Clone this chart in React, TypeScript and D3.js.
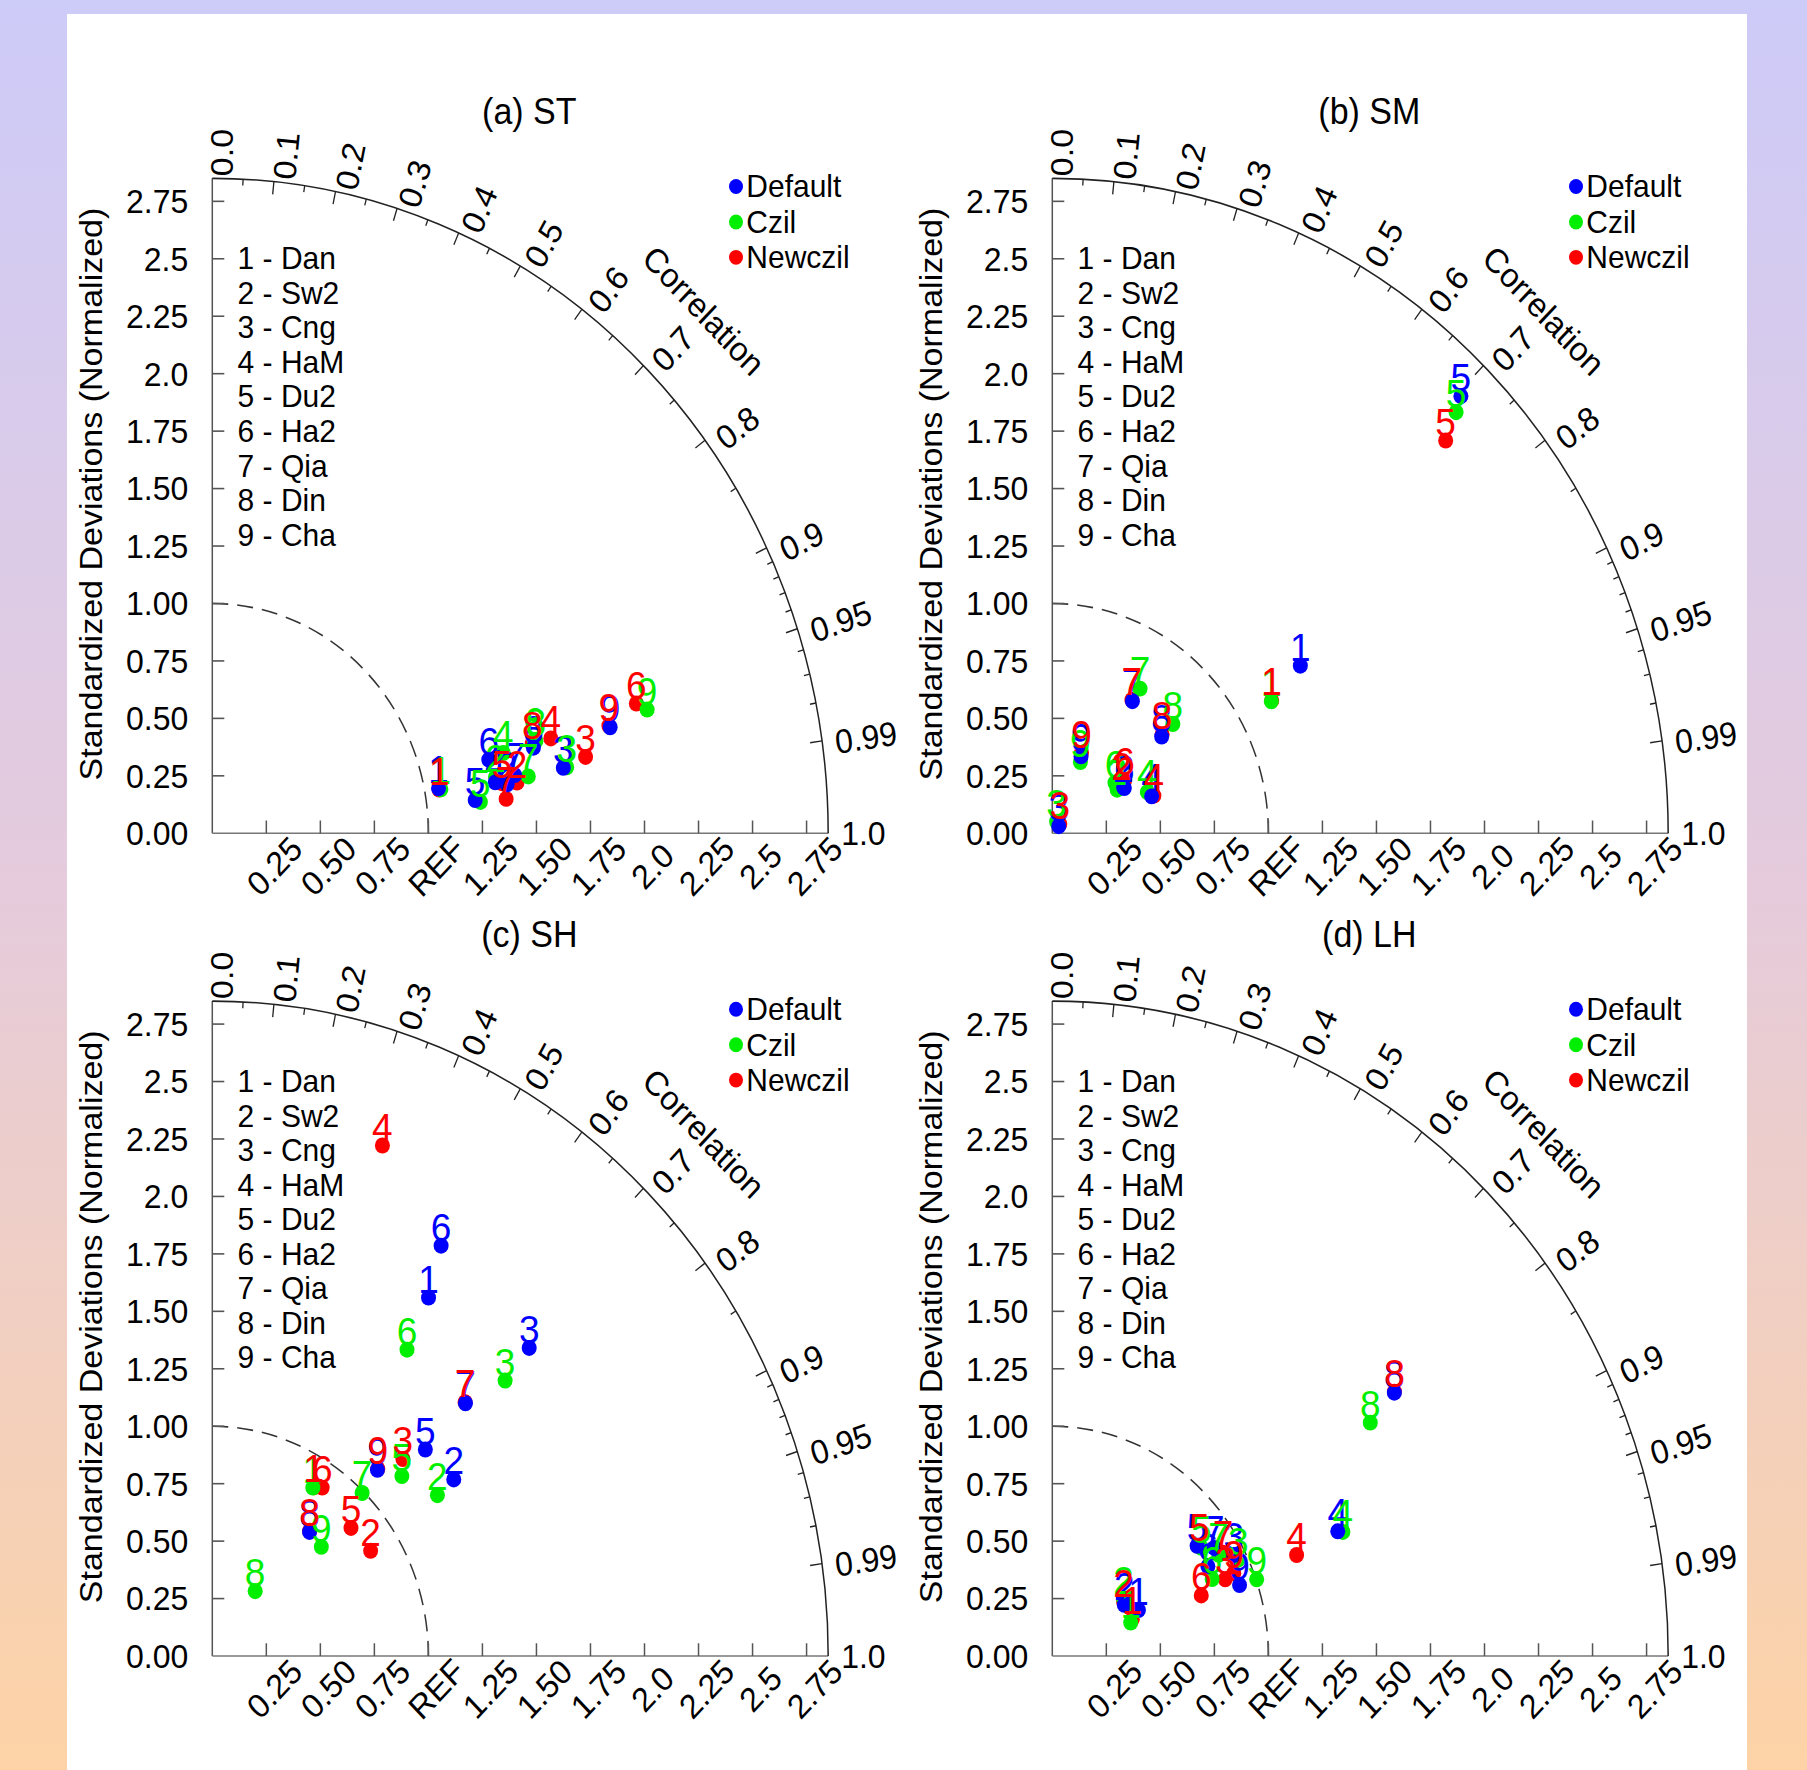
import React from "react";
import * as d3 from "d3";

// ---- data (normalized std ratio, correlation) ----
const MODELS = ["Dan", "Sw2", "Cng", "HaM", "Du2", "Ha2", "Qia", "Din", "Cha"];
const SERIES = ["Default", "Czil", "Newczil"];
const SERIES_COLORS = ["#0000ff", "#00ee00", "#ff0000"];
const PANEL_TITLES = ["(a) ST", "(b) SM", "(c) SH", "(d) LH"];

// order inside each: Default, Czil, Newczil ; 9 models each (null = not visible)
const stStd = [
  [1.065, 1.381, 1.649, 1.328, 1.225, 1.319, 1.422, 1.532, 1.898],
  [1.075, 1.333, 1.665, 1.391, 1.248, 1.544, 1.483, 1.55, 2.083],
  [1.067, 1.427, 1.759, 1.62, 1.357, 2.042, 1.368, 1.531, 1.894],
];
const stCor = [
  [0.983, 0.988, 0.985, 0.986, 0.993, 0.97, 0.984, 0.97, 0.97],
  [0.984, 0.983, 0.985, 0.968, 0.994, 0.965, 0.986, 0.966, 0.966],
  [0.984, 0.988, 0.982, 0.967, 0.987, 0.961, 0.994, 0.967, 0.969],
];

const smStd = [
  [1.36, 0.386, 0.043, 0.487, 2.682, 0.387, 0.684, 0.658, 0.36],
  [1.165, 0.355, 0.054, 0.475, 2.617, 0.364, 0.749, 0.733, 0.336],
  [1.168, 0.383, 0.053, 0.498, 2.497, 0.406, 0.687, 0.666, 0.375],
];
const smCor = [
  [0.844, 0.855, 0.696, 0.944, 0.705, 0.861, 0.542, 0.769, 0.369],
  [0.87, 0.845, 0.371, 0.926, 0.714, 0.797, 0.542, 0.761, 0.387],
  [0.869, 0.836, 0.658, 0.944, 0.729, 0.824, 0.536, 0.763, 0.36],
];

const shStd = [
  [1.853, 1.356, 1.987, null, 1.334, 2.076, 1.607, 0.703, 1.114],
  [0.868, 1.255, 1.809, null, 1.176, 1.609, 0.992, 0.345, 0.693],
  [0.872, 0.864, 1.23, 2.357, 0.85, 0.892, 1.609, 0.707, 1.118],
];
const shCor = [
  [0.54, 0.824, 0.738, null, 0.739, 0.51, 0.729, 0.64, 0.686],
  [0.536, 0.83, 0.749, null, 0.746, 0.56, 0.699, 0.575, 0.728],
  [0.539, 0.848, 0.717, 0.334, 0.755, 0.57, 0.727, 0.637, 0.685],
];

const lhStd = [
  [0.446, 0.401, 0.948, 1.428, 0.824, 0.819, 0.885, 1.954, 0.92],
  [0.391, 0.414, 0.957, 1.449, 0.835, 0.812, 0.887, 1.788, 1.003],
  [0.403, 0.405, 0.867, 1.213, 0.832, 0.738, 0.909, 1.957, 0.914],
];
const lhCor = [
  [0.894, 0.831, 0.886, 0.925, 0.813, 0.879, 0.847, 0.81, 0.942],
  [0.928, 0.797, 0.899, 0.928, 0.826, 0.911, 0.868, 0.823, 0.943],
  [0.918, 0.815, 0.923, 0.932, 0.817, 0.934, 0.869, 0.809, 0.919],
];

const PANEL_STD = [stStd, smStd, shStd, lhStd];
const PANEL_COR = [stCor, smCor, shCor, lhCor];

const STD_TICKS = [0.25, 0.5, 0.75, 1.0, 1.25, 1.5, 1.75, 2.0, 2.25, 2.5, 2.75];
const Y_TICK_VALUES = [0, 0.25, 0.5, 0.75, 1.0, 1.25, 1.5, 1.75, 2.0, 2.25, 2.5, 2.75];
const Y_TICK_LABELS = ["0.00", "0.25", "0.50", "0.75", "1.00", "1.25", "1.50", "1.75", "2.0", "2.25", "2.5", "2.75"];
const X_TICK_LABELS = ["0.25", "0.50", "0.75", "REF", "1.25", "1.50", "1.75", "2.0", "2.25", "2.5", "2.75"];
const COR_MAJOR = [0, 0.1, 0.2, 0.3, 0.4, 0.5, 0.6, 0.7, 0.8, 0.9, 0.95, 0.99, 1.0];
const COR_LABELS = ["0.0", "0.1", "0.2", "0.3", "0.4", "0.5", "0.6", "0.7", "0.8", "0.9", "0.95", "0.99", "1.0"];
const COR_MINOR = [0.05, 0.15, 0.25, 0.35, 0.45, 0.55, 0.65, 0.75, 0.85, 0.91, 0.92, 0.93, 0.94, 0.96, 0.97, 0.98];

// ---- layout ----
const W = 1807;
const H = 1770;
const SY = 1.0634; // the picture is slightly taller than wide
const MAX_STD = 2.85;
const PX = 216.1;
const ORIGINS = [
  [212.3, 783.6],
  [1052.3, 783.6],
  [212.3, 1557.3],
  [1052.3, 1557.3],
];
const FONT = "'Liberation Sans', Arial, Helvetica, sans-serif";

const x = d3.scaleLinear().domain([0, MAX_STD]).range([0, MAX_STD * PX]);
const y = d3.scaleLinear().domain([0, MAX_STD]).range([0, -MAX_STD * PX]);

function quarter(r: number) {
  const p = d3.path();
  p.moveTo(0, -r);
  p.arc(0, 0, r, -Math.PI / 2, 0);
  return p.toString();
}

function Panel({ idx }: { idx: number }) {
  const [ox, oy] = ORIGINS[idx];
  const R = x(MAX_STD);
  const stds = PANEL_STD[idx];
  const cors = PANEL_COR[idx];

  const pts: { s: number; i: number; px: number; py: number }[] = [];
  stds.forEach((row, s) =>
    row.forEach((sd, i) => {
      const c = cors[s][i];
      if (sd == null || c == null) return;
      const ang = Math.acos(c);
      pts.push({ s, i, px: x(sd * Math.cos(ang)), py: y(sd * Math.sin(ang)) });
    })
  );
  const markerOrder = [2, 1, 0];
  const textOrder = [0, 1, 2];

  return (
    <g transform={`translate(${ox},${oy})`} fontFamily={FONT}>
      {/* axes */}
      <line x1={0} y1={0} x2={0} y2={y(MAX_STD)} stroke="#555" strokeWidth={1.5} />
      <line x1={0} y1={0} x2={R} y2={0} stroke="#777" strokeWidth={1.5} />
      <path d={quarter(R)} fill="none" stroke="#222" strokeWidth={1.5} />
      <path d={quarter(x(1))} fill="none" stroke="#333" strokeWidth={1.5} strokeDasharray="16,9" />

      {STD_TICKS.map((v, k) => (
        <g key={"xt" + k}>
          <line x1={x(v)} y1={0} x2={x(v)} y2={-12} stroke="#555" strokeWidth={1.5} />
          <text
            transform={`translate(${x(v) + 8},31) rotate(-45)`}
            textAnchor="middle"
            dominantBaseline="central"
            fontSize={32}
          >
            {X_TICK_LABELS[k]}
          </text>
        </g>
      ))}
      {Y_TICK_VALUES.map((v, k) => (
        <g key={"yt" + k}>
          {v > 0 && <line x1={0} y1={y(v)} x2={12} y2={y(v)} stroke="#555" strokeWidth={1.5} />}
          <text x={-24} y={y(v)} textAnchor="end" dominantBaseline="central" fontSize={32}>
            {Y_TICK_LABELS[k]}
          </text>
        </g>
      ))}

      {/* correlation ticks and labels */}
      {COR_MINOR.map((c, k) => {
        const a = Math.acos(c);
        return (
          <line
            key={"cm" + k}
            x1={R * Math.cos(a)}
            y1={-R * Math.sin(a)}
            x2={(R - 6) * Math.cos(a)}
            y2={-(R - 6) * Math.sin(a)}
            stroke="#222"
            strokeWidth={1.3}
          />
        );
      })}
      {COR_MAJOR.map((c, k) => {
        const a = Math.acos(c);
        const gap = 2 + 11 * Math.cos(a);
        const off = 10 * Math.min(1, Math.sin(a) / 0.45);
        const deg = (a * 180) / Math.PI;
        return (
          <g key={"cM" + k}>
            {c > 0 && c < 1 && (
              <line
                x1={R * Math.cos(a)}
                y1={-R * Math.sin(a)}
                x2={(R - 12) * Math.cos(a)}
                y2={-(R - 12) * Math.sin(a)}
                stroke="#222"
                strokeWidth={1.3}
              />
            )}
            <text
              transform={`translate(${(R + gap) * Math.cos(a)},${-(R + gap) * Math.sin(a)}) rotate(${-deg})`}
              dy={off}
              dominantBaseline="central"
              fontSize={32}
            >
              {COR_LABELS[k]}
            </text>
          </g>
        );
      })}
      <text
        transform={`translate(${695 * Math.cos(Math.PI / 4)},${-695 * Math.sin(Math.PI / 4)}) rotate(45)`}
        textAnchor="middle"
        dominantBaseline="central"
        fontSize={32}
      >
        Correlation
      </text>

      {/* titles */}
      <text x={317} y={-679} textAnchor="middle" dominantBaseline="central" fontSize={34}>
        {PANEL_TITLES[idx]}
      </text>
      <text
        transform={`translate(-121,-319) rotate(-90)`}
        textAnchor="middle"
        dominantBaseline="central"
        fontSize={32}
      >
        Standardized Deviations (Normalized)
      </text>

      {/* model list */}
      {MODELS.map((m, i) => (
        <text key={"m" + i} x={25.3} y={-540.6 + i * 32.5} dominantBaseline="central" fontSize={30}>
          {`${i + 1} - ${m}`}
        </text>
      ))}

      {/* legend */}
      {SERIES.map((s, k) => (
        <g key={"lg" + k}>
          <circle cx={523.7} cy={-608.2 + k * 33.3} r={7} fill={SERIES_COLORS[k]} />
          <text x={534} y={-608.2 + k * 33.3} dominantBaseline="central" fontSize={30}>
            {s}
          </text>
        </g>
      ))}

      {/* markers */}
      {markerOrder.map((s) =>
        pts
          .filter((p) => p.s === s)
          .map((p) => <circle key={`mk${s}-${p.i}`} cx={p.px} cy={p.py} r={7.5} fill={SERIES_COLORS[s]} />)
      )}
      {textOrder.map((s) =>
        pts
          .filter((p) => p.s === s)
          .map((p) => (
            <text
              key={`tx${s}-${p.i}`}
              x={p.px}
              y={p.py - 4.7}
              textAnchor="middle"
              fontSize={37}
              fill={SERIES_COLORS[s]}
            >
              {p.i + 1}
            </text>
          ))
      )}
    </g>
  );
}

export default function App() {
  return (
    <svg
      width={W}
      height={H}
      style={{ position: "absolute", left: 0, top: 0, display: "block" }}
    >
      <defs>
        <linearGradient id="bg" x1="0" y1="0" x2="0" y2="1">
          <stop offset="0" stopColor="#cdcbf8" />
          <stop offset="0.5" stopColor="#e5cbdc" />
          <stop offset="1" stopColor="#fdd3a6" />
        </linearGradient>
      </defs>
      <rect x={0} y={0} width={W} height={H} fill="url(#bg)" />
      <rect x={67} y={14} width={1680} height={H - 14} fill="#ffffff" />
      <g transform={`scale(1,${SY})`}>
        {[0, 1, 2, 3].map((i) => (
          <Panel key={i} idx={i} />
        ))}
      </g>
    </svg>
  );
}
